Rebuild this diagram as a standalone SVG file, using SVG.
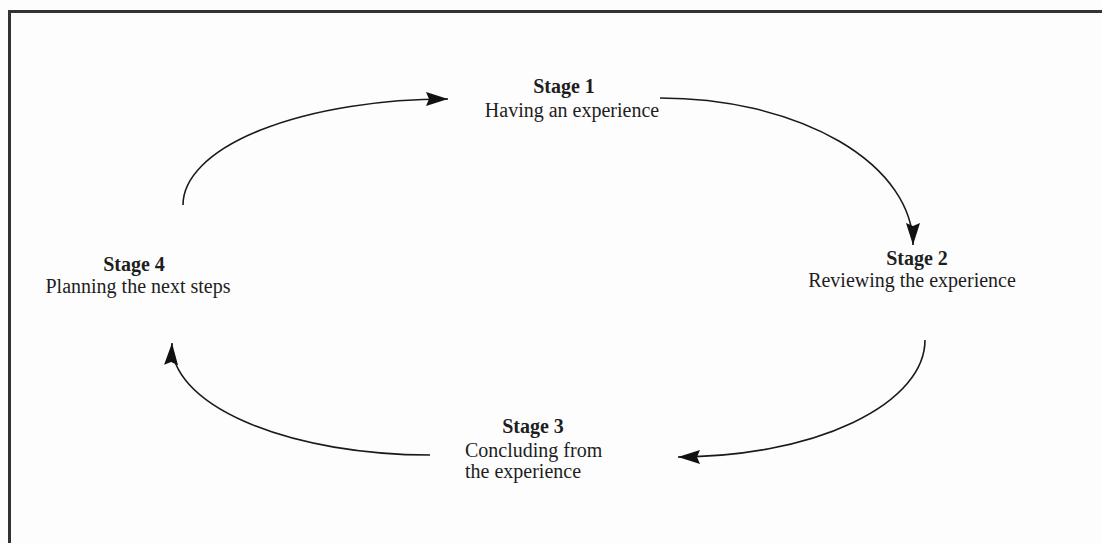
<svg xmlns="http://www.w3.org/2000/svg" width="1102" height="543" viewBox="0 0 1102 543">
<style>
.t{font-family:"Liberation Serif","Times New Roman",serif;font-size:20px;fill:#1e1e1e}
.b{font-weight:bold}
.c{fill:none;stroke:#1a1a1a;stroke-width:1.6}
</style>
<defs>
<marker id="ah" markerUnits="userSpaceOnUse" markerWidth="24" markerHeight="16" refX="22" refY="7" orient="auto">
<path d="M0,0 L22,7 L0,14 L3,7 z" fill="#111"/>
</marker>
</defs>
<rect width="1102" height="543" fill="#fdfdfd"/>
<g id="frame">
<line x1="8" y1="11.5" x2="1102" y2="11.5" stroke="#333" stroke-width="3"/>
<line x1="9.5" y1="10" x2="9.5" y2="543" stroke="#333" stroke-width="3"/>
</g>
<g id="connectors">
<path class="c" d="M183,205 A265,106 0 0 1 448,99" marker-end="url(#ah)"/>
<path class="c" d="M660,98 A253,147 0 0 1 913,245" marker-end="url(#ah)"/>
<path class="c" d="M925,340 A247,117 0 0 1 678,457" marker-end="url(#ah)"/>
<path class="c" d="M430,455 A258,110 0 0 1 172,343" marker-end="url(#ah)"/>
</g>
<g id="stage1">
<text class="t b" x="564" y="93" text-anchor="middle">Stage 1</text>
<text class="t" x="572" y="117" text-anchor="middle">Having an experience</text>
</g>
<g id="stage2">
<text class="t b" x="917" y="265" text-anchor="middle">Stage 2</text>
<text class="t" x="912" y="287" text-anchor="middle">Reviewing the experience</text>
</g>
<g id="stage3">
<text class="t b" x="533" y="433" text-anchor="middle">Stage 3</text>
<text class="t" x="465" y="457">Concluding from</text>
<text class="t" x="465" y="478">the experience</text>
</g>
<g id="stage4">
<text class="t b" x="134" y="271" text-anchor="middle">Stage 4</text>
<text class="t" x="138" y="293" text-anchor="middle">Planning the next steps</text>
</g>
</svg>
